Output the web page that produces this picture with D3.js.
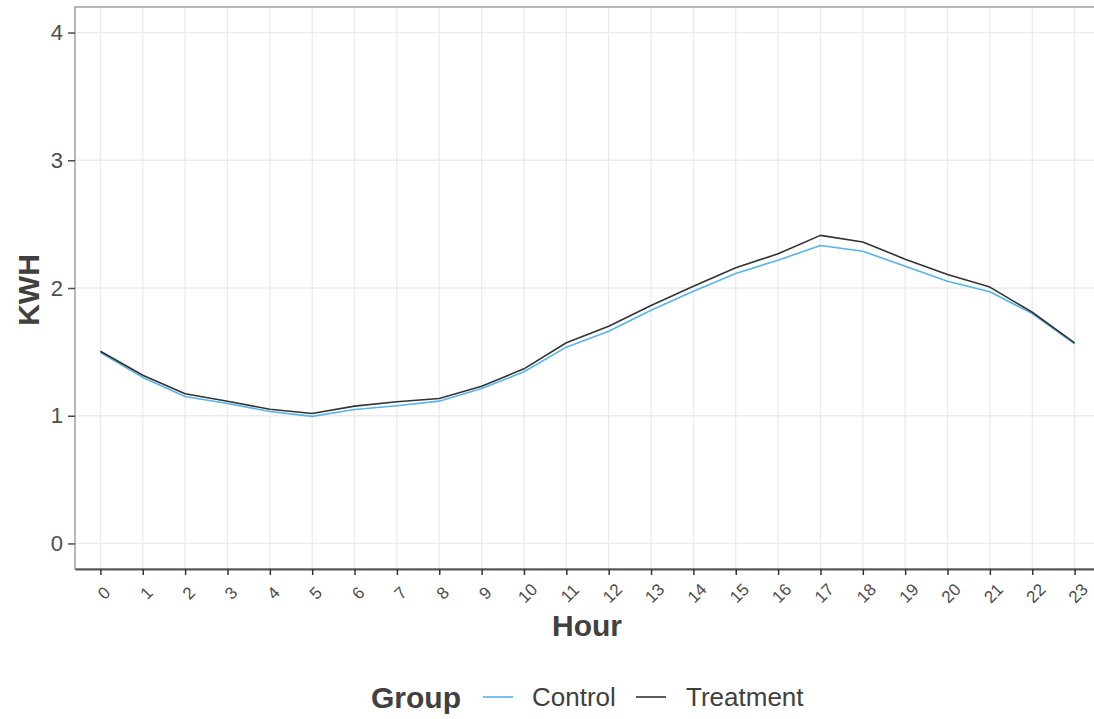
<!DOCTYPE html>
<html><head><meta charset="utf-8">
<script src="https://cdn.jsdelivr.net/npm/d3@7"></script>
<style>body{margin:0;background:#fff}svg{display:block;font-family:"Liberation Sans",Arial,sans-serif}</style>
</head><body><svg id="c" width="1094" height="719"></svg>
<script>
const hours = [0,1,2,3,4,5,6,7,8,9,10,11,12,13,14,15,16,17,18,19,20,21,22,23];
const control = [1.495,1.30,1.15,1.096,1.033,0.995,1.049,1.078,1.114,1.213,1.344,1.537,1.662,1.826,1.975,2.114,2.218,2.333,2.288,2.171,2.053,1.97,1.80,1.563];
const treatment = [1.505,1.317,1.172,1.114,1.051,1.018,1.075,1.109,1.135,1.231,1.367,1.571,1.70,1.863,2.014,2.158,2.268,2.412,2.36,2.226,2.106,2.007,1.81,1.571];
const yTicks = [0,1,2,3,4];
const groups = ["Control","Treatment"];
const colors = ["#56B4E9","#333333"];

const svg = d3.select("#c");
const L = 75, T = 7, B = 569, R = 1100;
const x = d3.scalePoint().domain(hours).range([L, R]).padding(0.6);
const y = d3.scaleLinear().domain([-0.2, 4.2]).range([B, T]);

// grid
svg.append("g").selectAll("line").data(hours).join("line")
  .attr("x1", d => x(d)).attr("x2", d => x(d)).attr("y1", T).attr("y2", B)
  .attr("stroke", "#ebebeb").attr("stroke-width", 1.3);
svg.append("g").selectAll("line").data(yTicks).join("line")
  .attr("x1", L).attr("x2", R).attr("y1", d => y(d)).attr("y2", d => y(d))
  .attr("stroke", "#ebebeb").attr("stroke-width", 1.3);

// border
svg.append("rect").attr("x", L).attr("y", T).attr("width", R - L).attr("height", B - T)
  .attr("fill", "none").attr("stroke", "#a0a0a0").attr("stroke-width", 1.5);

// lines
const series = [control, treatment];
const line = d3.line().x((d, i) => x(hours[i])).y(d => y(d));
series.forEach((s, k) => {
  svg.append("path").datum(s).attr("d", line).attr("fill", "none")
    .attr("stroke", colors[k]).attr("stroke-width", 1.6).attr("stroke-linejoin", "round");
});

// y axis
const ya = svg.append("g").attr("transform", `translate(${L},0)`)
  .call(d3.axisLeft(y).tickValues(yTicks).tickSize(7).tickPadding(5).tickFormat(d3.format("d")));
ya.select(".domain").remove();
ya.selectAll(".tick line").attr("stroke", "#4d4d4d").attr("stroke-width", 1.5);
ya.selectAll(".tick text").attr("fill", "#4d4d4d").style("font-size", "22px");

// x axis
const xa = svg.append("g").attr("transform", `translate(0,${B})`)
  .call(d3.axisBottom(x).tickSize(6).tickSizeOuter(0).tickFormat(d => d));
xa.select(".domain").attr("stroke", "#555").attr("stroke-width", 2);
xa.selectAll(".tick line").attr("stroke", "#333").attr("stroke-width", 1.5);
xa.selectAll(".tick text").attr("fill", "#4d4d4d").style("font-size", "17px")
  .attr("y", 0).attr("dy", "0.35em")
  .attr("text-anchor", "middle")
  .attr("transform", "translate(3,24) rotate(-45)");

// titles
svg.append("text").attr("x", 587).attr("y", 636).attr("text-anchor", "middle")
  .attr("font-weight", "bold").attr("font-size", 30).attr("fill", "#404040").text("Hour");
svg.append("text").attr("transform", "translate(39,290) rotate(-90)").attr("text-anchor", "middle")
  .attr("font-weight", "bold").attr("font-size", 30).attr("fill", "#404040").text("KWH");

// legend
const lg = svg.append("g");
lg.append("text").attr("x", 371).attr("y", 708).attr("font-weight", "bold").attr("font-size", 30)
  .attr("fill", "#404040").text("Group");
const lx = [483, 636], tx = [532, 686];
groups.forEach((g, k) => {
  lg.append("line").attr("x1", lx[k]).attr("x2", lx[k] + 30).attr("y1", 697).attr("y2", 697)
    .attr("stroke", colors[k]).attr("stroke-width", 1.6);
  lg.append("text").attr("x", tx[k]).attr("y", 706).attr("font-size", 26).attr("fill", "#404040").text(g);
});
</script></body></html>
